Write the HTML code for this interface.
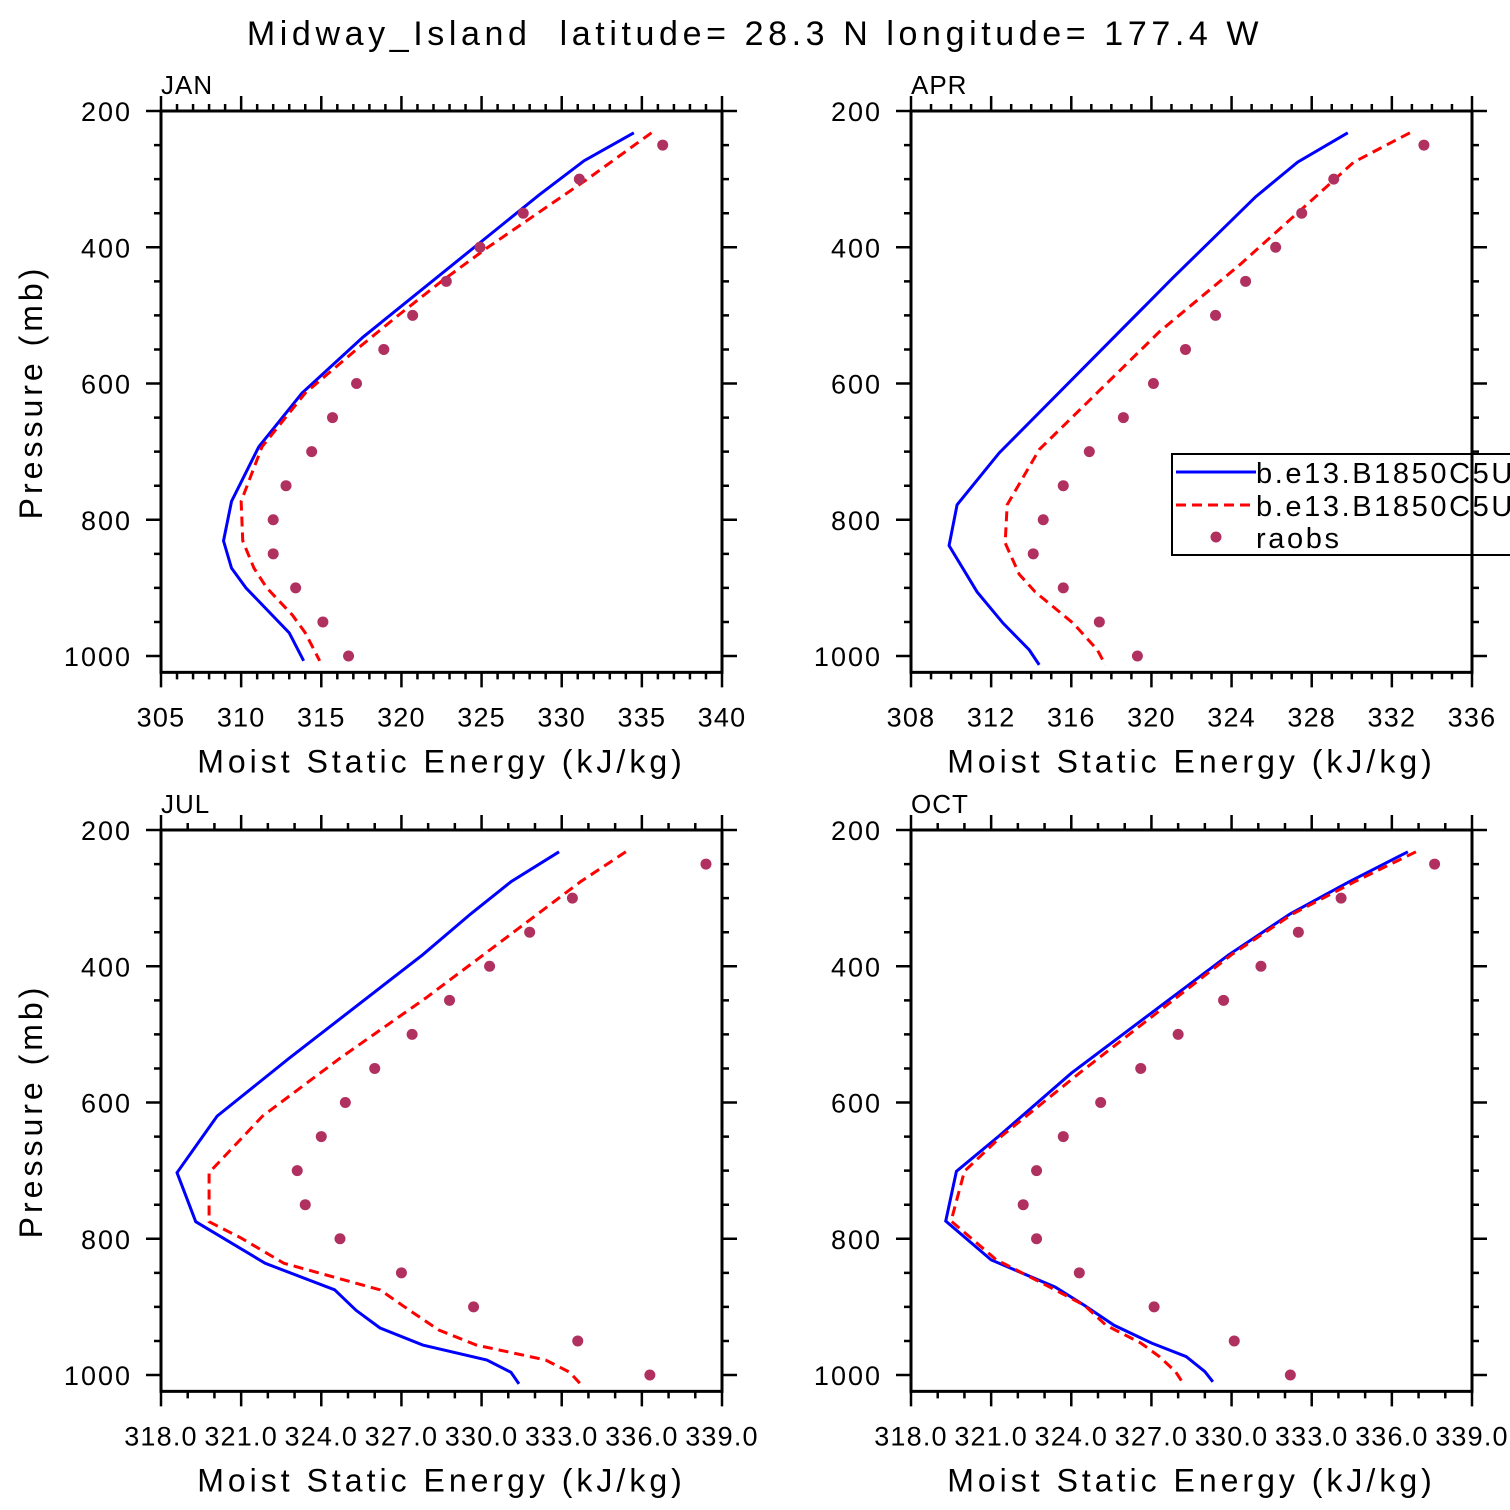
<!DOCTYPE html>
<html><head><meta charset="utf-8"><style>
html,body{margin:0;padding:0;background:#fff}
svg{display:block}
text{font-family:"Liberation Sans",sans-serif;fill:#000}
</style></head><body>
<svg id="chart" width="1510" height="1510" viewBox="0 0 1510 1510" xmlns="http://www.w3.org/2000/svg">
<text x="755" y="45" font-size="34" text-anchor="middle" letter-spacing="4.6" style="white-space:pre">Midway_Island  latitude= 28.3 N longitude= 177.4 W</text>
</svg>
<script>
// ---- data ----
const obsLevels = [250,300,350,400,450,500,550,600,650,700,750,800,850,900,950,1000];
const janBlueP = [232,273,323,532,614,693,773,831,871,900,966,1007];
const janBlue  = [334.5,331.4,328.6,317.6,313.8,311.1,309.4,308.9,309.4,310.3,313.0,313.9];
const janRedP  = [232,300,350,400,450,500,550,614,693,773,831,871,900,940,966,1007];
const janRed   = [335.6,331.6,328.5,325.4,322.5,319.8,317.2,314.0,311.3,310.0,310.1,310.8,311.6,313.2,314.0,314.9];
const janObs   = [336.3,331.1,327.6,324.9,322.8,320.7,318.9,317.2,315.7,314.4,312.8,312.0,312.0,313.4,315.1,316.7];
const aprBlueP = [232,275,326,444,702,778,838,906,952,991,1013];
const aprBlue  = [329.8,327.3,325.2,321.1,312.4,310.3,309.9,311.3,312.6,313.9,314.4];
const aprRedP  = [232,275,323,426,524,697,778,834,880,906,952,991,1013];
const aprRed   = [332.9,330.1,328.3,324.4,320.4,314.4,312.8,312.7,313.4,314.2,316.1,317.3,317.7];
const aprObs   = [333.6,329.1,327.5,326.2,324.7,323.2,321.7,320.1,318.6,316.9,315.6,314.6,314.1,315.6,317.4,319.3];
const julBlueP = [232,276,323,383,535,620,703,775,836,875,905,931,956,978,996,1013];
const julBlue  = [332.9,331.1,329.6,327.8,322.8,320.1,318.6,319.3,321.9,324.5,325.3,326.2,327.8,330.2,331.1,331.4];
const julRedP  = [232,276,344,447,535,620,703,775,799,836,875,905,934,956,978,996,1013];
const julRed   = [335.4,333.7,331.4,327.9,324.7,321.8,319.8,319.8,321.0,322.6,326.2,327.3,328.4,329.8,332.4,333.3,333.7];
const julObs   = [338.4,333.4,331.8,330.3,328.8,327.4,326.0,324.9,324.0,323.1,323.4,324.7,327.0,329.7,333.6,336.3];
const octBlueP = [232,276,323,383,557,649,701,774,831,871,898,927,953,973,995,1010];
const octBlue  = [336.6,334.4,332.2,329.9,324.0,321.3,319.7,319.3,321.0,323.4,324.5,325.6,327.0,328.3,329.0,329.3];
const octRedP  = [232,276,323,383,557,649,701,774,831,871,898,927,953,973,995,1013];
const octRed   = [336.9,334.6,332.3,330.0,324.3,321.4,320.0,319.5,321.2,323.2,324.5,325.3,326.6,327.3,327.9,328.2];
const octObs   = [337.6,334.1,332.5,331.1,329.7,328.0,326.6,325.1,323.7,322.7,322.2,322.7,324.3,327.1,330.1,332.2];
const janTicks = ["305","310","315","320","325","330","335","340"];
const aprTicks = ["308","312","316","320","324","328","332","336"];
const julTicks = ["318.0","321.0","324.0","327.0","330.0","333.0","336.0","339.0"];
const pTicks = [200,400,600,800,1000];

const NS="http://www.w3.org/2000/svg";
const svg=document.getElementById('chart');
function mk(tag,attrs,parent){const e=document.createElementNS(NS,tag);for(const k in attrs)e.setAttribute(k,attrs[k]);(parent||svg).appendChild(e);return e;}

const panels=[
 {key:'jan',label:'JAN',x0:161,y0:111,vmin:305,vmax:340,minor:1,ticks:janTicks,bp:janBlueP,b:janBlue,rp:janRedP,r:janRed,o:janObs},
 {key:'apr',label:'APR',x0:911,y0:111,vmin:308,vmax:336,minor:1,ticks:aprTicks,bp:aprBlueP,b:aprBlue,rp:aprRedP,r:aprRed,o:aprObs},
 {key:'jul',label:'JUL',x0:161,y0:830,vmin:318,vmax:339,minor:1,ticks:julTicks,bp:julBlueP,b:julBlue,rp:julRedP,r:julRed,o:julObs},
 {key:'oct',label:'OCT',x0:911,y0:830,vmin:318,vmax:339,minor:1,ticks:julTicks,bp:octBlueP,b:octBlue,rp:octRedP,r:octRed,o:octObs}
];
const W=561, PY=0.68125;
panels.forEach((P,i)=>{
  const g=mk('g',{});
  
  
  const xs=v=>P.x0+(v-P.vmin)/(P.vmax-P.vmin)*W;
  const ys=p=>P.y0+(p-200)*PY;
  const yb=ys(1024);
  let d='';
  for(let v=P.vmin;v<=P.vmax+1e-6;v+=P.minor){
    const x=xs(v);const q=(v-P.vmin)/((P.vmax-P.vmin)/7);const maj=Math.abs(q-Math.round(q))<1e-6;
    const L=maj?15:7;
    d+=`M${x},${yb}v${L}M${x},${P.y0}v${-L}`;
  }
  for(let p=200;p<=1000;p+=50){
    const y=ys(p);const L=(p%200===0)?15:7;
    d+=`M${P.x0},${y}h${-L}M${P.x0+W},${y}h${L}`;
  }
  const tk=mk('path',{d:d,stroke:'#000','stroke-width':2.5,fill:'none'},g);
  
  
  const fr=mk('rect',{x:P.x0,y:P.y0,width:W,height:yb-P.y0,fill:'none',stroke:'#000','stroke-width':3},g);
  
  
  P.ticks.forEach((t,k)=>{
    const te=mk('text',{x:P.x0+k*W/7,y:yb+54,'font-size':27,'text-anchor':'middle','letter-spacing':1.2},g);
    te.textContent=t;
    
    
  });
  pTicks.forEach(p=>{
    const te=mk('text',{x:P.x0-29,y:ys(p)+10,'font-size':27,'text-anchor':'end','letter-spacing':2},g);
    te.textContent=p;
    
    
  });
  const xt=mk('text',{x:P.x0+W/2,y:yb+100,'font-size':32,'text-anchor':'middle','letter-spacing':4},g);
  xt.textContent='Moist Static Energy (kJ/kg)';
  
  
  if(P.x0<500){
    const yt=mk('text',{x:0,y:0,'font-size':32,'text-anchor':'middle','letter-spacing':4,transform:`translate(42,${P.y0+281}) rotate(-90)`},g);
    yt.textContent='Pressure (mb)';
    
    
  }
  const lb=mk('text',{x:P.x0,y:P.y0-17,'font-size':26,'letter-spacing':1},g);
  lb.textContent=P.label;
  
  
  const bl=mk('polyline',{points:P.b.map((v,k)=>xs(v)+','+ys(P.bp[k])).join(' '),fill:'none',stroke:'#0000ff','stroke-width':3},g);
  
  
  const rl=mk('polyline',{points:P.r.map((v,k)=>xs(v)+','+ys(P.rp[k])).join(' '),fill:'none',stroke:'#ff0000','stroke-width':3,'stroke-dasharray':'10,6'},g);
  
  
  P.o.forEach((v,k)=>{
    const c=mk('circle',{cx:xs(v),cy:ys(obsLevels[k]),r:5.5,fill:'#b03060'},g);
    
    
  });
});
const lg=mk('g',{});


mk('rect',{x:1172,y:454,width:360,height:101,fill:'#fff',stroke:'#000','stroke-width':2},lg);
mk('line',{x1:1176,y1:472,x2:1256,y2:472,stroke:'#0000ff','stroke-width':3},lg);
mk('line',{x1:1176,y1:505,x2:1256,y2:505,stroke:'#ff0000','stroke-width':3,'stroke-dasharray':'10,6'},lg);
mk('circle',{cx:1216,cy:537,r:5.5,fill:'#b03060'},lg);
[['b.e13.B1850C5U',483],['b.e13.B1850C5U',516],['raobs',548]].forEach(([t,y])=>{
  const te=mk('text',{x:1256,y:y,'font-size':29,'letter-spacing':2.6},lg);
  te.textContent=t;
  
  
});
mk('line',{x1:1472,y1:440,x2:1472,y2:570,stroke:'#000','stroke-width':3},lg);
</script>
</body></html>
